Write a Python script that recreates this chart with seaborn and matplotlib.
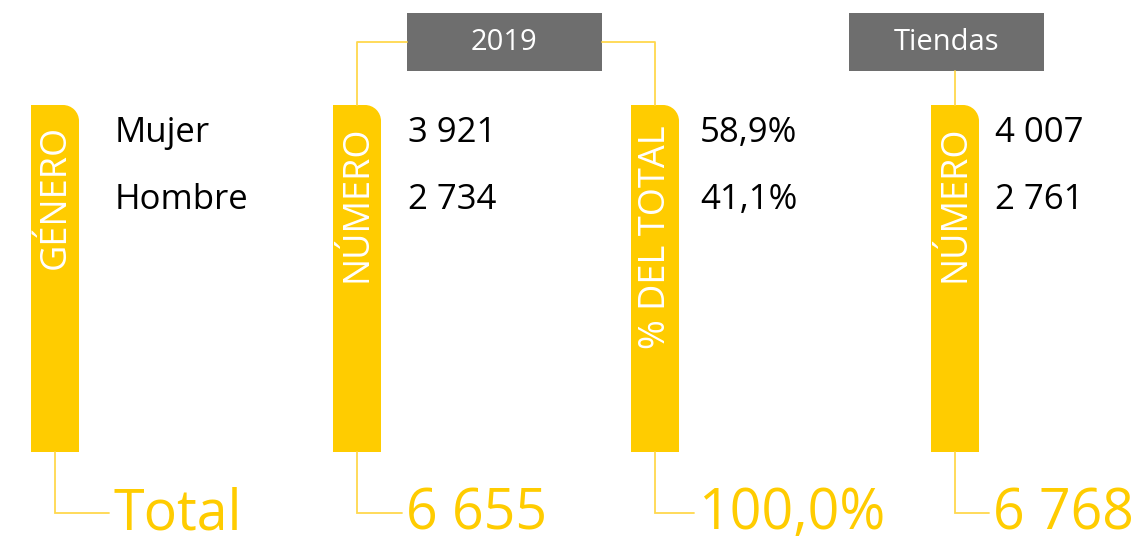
import numpy as np
import matplotlib
matplotlib.use("Agg")
import matplotlib.pyplot as plt
import matplotlib.patches as mpatches
import seaborn as sns

# data
column_titles = ["GÉNERO", "NÚMERO", "% DEL TOTAL", "NÚMERO"]
categories = ["Mujer", "Hombre"]
count_2019 = ["3 921", "2 734"]
share_2019 = ["58,9%", "41,1%"]
count_stores = ["4 007", "2 761"]
totals = ["Total", "6 655", "100,0%", "6 768"]
headers = ["2019", "Tiendas"]

YELLOW = "#FFCC00"
LINE = "#FFD84D"
GREY = "#6E6E6E"

sns.set_theme(style="white")
plt.rcParams["font.family"] = ["Open Sans", "DejaVu Sans"]

W, H = 1142, 546
fig = plt.figure(figsize=(W / 100, H / 100), dpi=100)
ax = fig.add_axes([0, 0, 1, 1])
ax.set_xlim(0, W)
ax.set_ylim(H, 0)
ax.axis("off")

bar_x = [31, 333, 631, 931]
bar_w, bar_top, bar_bot, rad = 48, 105, 452, 16
text_x = [115, 408, 700, 995]
row_y = [133, 200]
total_y = 513


def rounded_bar(x):
    ax.add_patch(mpatches.Rectangle((x, bar_top + rad), bar_w, bar_bot - bar_top - rad,
                                    color=YELLOW, lw=0))
    ax.add_patch(mpatches.Rectangle((x, bar_top), bar_w - rad, rad + 1, color=YELLOW, lw=0))
    # y axis is inverted, so the upper-right quarter is 270..360
    ax.add_patch(mpatches.Wedge((x + bar_w - rad, bar_top + rad), rad, 270, 360,
                                color=YELLOW, lw=0))


for i, x in enumerate(bar_x):
    rounded_bar(x)
    cx = x + bar_w / 2
    ax.text(cx + 1, bar_top + 20, column_titles[i], rotation=90, ha="center", va="top",
            color="white", fontsize=26)
    # connector to the total
    ax.plot([cx, cx, text_x[i] - 6], [bar_bot, total_y, total_y], color=LINE, lw=1.3,
            solid_joinstyle="miter")
    ax.text(text_x[i] - 2, total_y + 2, totals[i], ha="left", va="center", color=YELLOW,
            fontsize=40)

columns = [categories, count_2019, share_2019, count_stores]
for i, col in enumerate(columns):
    for j, val in enumerate(col):
        ax.text(text_x[i], row_y[j], val, ha="left", va="center", color="black", fontsize=25)

# header boxes
box_y, box_h = 13, 58
ax.add_patch(mpatches.Rectangle((407, box_y), 195, box_h, color=GREY, lw=0))
ax.add_patch(mpatches.Rectangle((849, box_y), 195, box_h, color=GREY, lw=0))
ax.text(504.5, box_y + box_h / 2 + 1, headers[0], ha="center", va="center", color="white",
        fontsize=21)
ax.text(946.5, box_y + box_h / 2 + 1, headers[1], ha="center", va="center", color="white",
        fontsize=21)

c1 = bar_x[1] + bar_w / 2
c2 = bar_x[2] + bar_w / 2
c3 = bar_x[3] + bar_w / 2
ax.plot([c1, c1, 407], [bar_top, 42, 42], color=LINE, lw=1.3)
ax.plot([602, c2, c2], [42, 42, bar_top], color=LINE, lw=1.3)
ax.plot([c3, c3], [box_y + box_h, bar_top], color=LINE, lw=1.3)

fig.savefig("out.png", dpi=100, facecolor="white")
